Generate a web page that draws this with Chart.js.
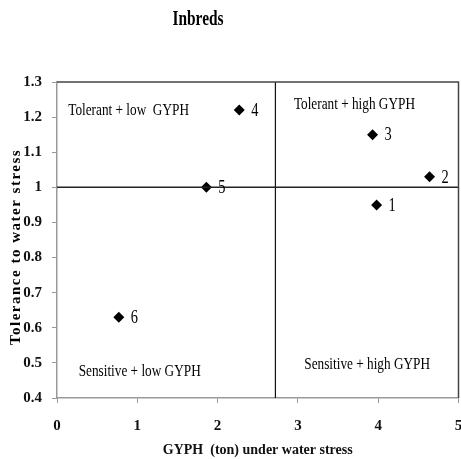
<!DOCTYPE html>
<html lang="en">
<head>
  <meta charset="UTF-8">
  <title>Inbreds</title>
  <script src="https://cdn.jsdelivr.net/npm/chart.js"></script>
  <style>
    html, body { margin: 0; padding: 0; background: #fff; overflow: hidden; }
    #wrap { width: 461px; height: 459px; overflow: hidden; }
  </style>
</head>
<body>
  <div id="wrap"><canvas id="chart" width="464" height="459"></canvas></div>
  <script>
    // data
    const genotypes = ['1', '2', '3', '4', '5', '6'];
    const gyph = [3.98, 4.64, 3.93, 2.27, 1.86, 0.77];
    const tolerance = [0.95, 1.03, 1.15, 1.22, 1.00, 0.63];

    // quadrant split lines
    const gyphSplit = 2.72;
    const toleranceSplit = 1.0;

    // quadrant captions and where they sit (data units, left edge / middle)
    const quadrantLabels = ['Tolerant + low  GYPH', 'Tolerant + high GYPH', 'Sensitive + low GYPH', 'Sensitive + high GYPH'];
    const quadrantX = [0.14, 2.95, 0.27, 3.08];
    const quadrantY = [1.22, 1.237, 0.474, 0.494];

    const serif = '"Liberation Serif", "Times New Roman", serif';

    // narrow serif text, like the squeezed Times of the original
    function narrowText(ctx, text, x, y, squeeze) {
      ctx.save();
      ctx.translate(x, y);
      ctx.scale(squeeze, 1);
      ctx.fillText(text, 0, 0);
      ctx.restore();
    }

    const annotations = {
      id: 'annotations',
      afterDatasetsDraw(chart) {
        const { ctx, chartArea, scales: { x, y } } = chart;
        ctx.save();

        // frame on top and right
        ctx.strokeStyle = '#444';
        ctx.lineWidth = 1.5;
        ctx.beginPath();
        ctx.moveTo(chartArea.left, chartArea.top);
        ctx.lineTo(chartArea.right, chartArea.top);
        ctx.lineTo(chartArea.right, chartArea.bottom);
        ctx.stroke();

        ctx.fillStyle = '#000';
        ctx.textBaseline = 'middle';
        ctx.textAlign = 'left';

        // point numbers
        ctx.font = '18px ' + serif;
        genotypes.forEach((g, i) => {
          narrowText(ctx, g, x.getPixelForValue(gyph[i]) + 12, y.getPixelForValue(tolerance[i]) + 1, 0.8);
        });

        // quadrant captions
        ctx.font = '17px ' + serif;
        quadrantLabels.forEach((t, i) => {
          narrowText(ctx, t, x.getPixelForValue(quadrantX[i]), y.getPixelForValue(quadrantY[i]), 0.78);
        });

        // title
        ctx.font = 'bold 20px ' + serif;
        ctx.textAlign = 'center';
        narrowText(ctx, 'Inbreds', 198, 20, 0.77);

        // y axis title, letter spaced
        ctx.save();
        ctx.translate(16, 247);
        ctx.rotate(-Math.PI / 2);
        ctx.font = 'bold 15px ' + serif;
        ctx.letterSpacing = '1.5px';
        ctx.fillText('Tolerance to water stress', 0, 0);
        ctx.restore();

        ctx.restore();
      }
    };

    new Chart(document.getElementById('chart'), {
      type: 'scatter',
      data: {
        datasets: [
          {
            label: 'split y',
            type: 'line',
            data: [{ x: 0, y: toleranceSplit }, { x: 5, y: toleranceSplit }],
            borderColor: '#222',
            borderWidth: 1.5,
            pointRadius: 0
          },
          {
            label: 'split x',
            type: 'line',
            data: [{ x: gyphSplit, y: 0.4 }, { x: gyphSplit, y: 1.3 }],
            borderColor: '#111',
            borderWidth: 1.2,
            pointRadius: 0
          },
          {
            label: 'Inbreds',
            data: gyph.map((v, i) => ({ x: v, y: tolerance[i] })),
            pointStyle: 'rectRot',
            pointRadius: 5.5,
            backgroundColor: '#000',
            borderColor: '#000',
            borderWidth: 0
          }
        ]
      },
      options: {
        responsive: false,
        animation: false,
        layout: { padding: { top: 82, right: 0, left: 0, bottom: 0 } },
        plugins: {
          legend: { display: false },
          tooltip: { enabled: false }
        },
        scales: {
          x: {
            type: 'linear',
            min: 0,
            max: 5,
            ticks: { stepSize: 1, padding: 14, color: '#111', font: { family: serif, size: 15, weight: 'bold' } },
            grid: { drawOnChartArea: false, drawTicks: true, tickLength: 5, color: '#999' },
            border: { color: '#999', width: 1.5 },
            title: { display: true, text: 'GYPH  (ton) under water stress', color: '#111', font: { family: serif, size: 14, weight: 'bold' }, padding: { top: 8, bottom: 0 } },
            afterFit(scale) {
              scale.height = 61;
              scale.paddingLeft = 0;
              scale.paddingRight = 0;
            }
          },
          y: {
            min: 0.4,
            max: 1.3,
            ticks: { stepSize: 0.1, padding: 10, color: '#111', font: { family: serif, size: 15, weight: 'bold' }, callback: v => String(Math.round(v * 10) / 10) },
            grid: { drawOnChartArea: false, drawTicks: true, tickLength: 5, color: '#999' },
            border: { color: '#999', width: 1.5 },
            title: { display: false },
            afterFit(scale) {
              scale.width = 57;
              scale.paddingTop = 0;
              scale.paddingBottom = 0;
            }
          }
        }
      },
      plugins: [annotations]
    });
  </script>
</body>
</html>
